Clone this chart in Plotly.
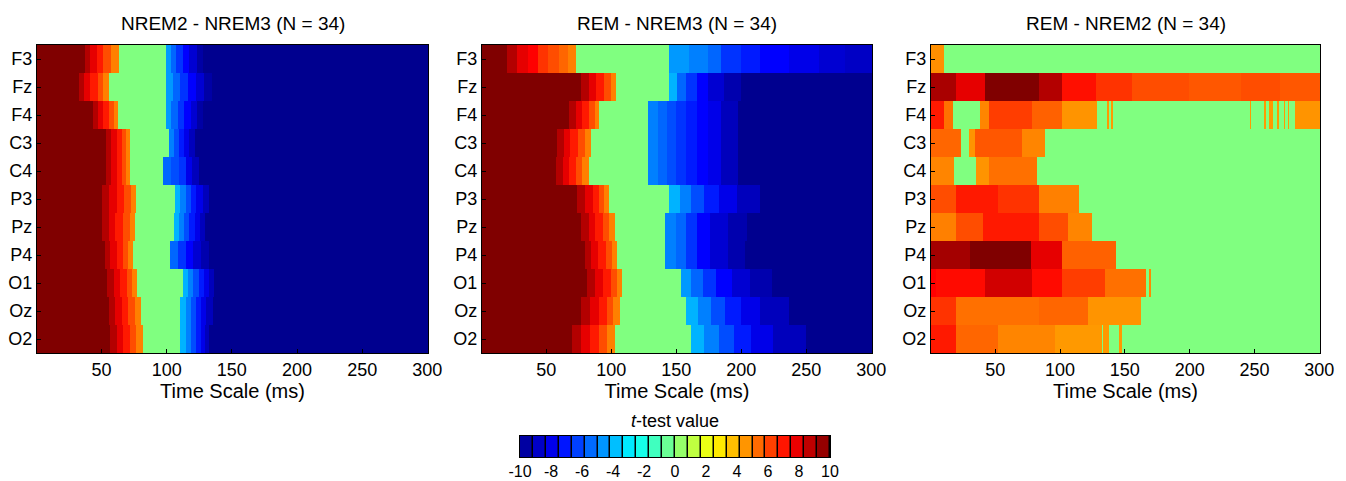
import numpy as np
import plotly.graph_objects as go

# ---------------- data ----------------
CHANNELS = ["F3", "Fz", "F4", "C3", "C4", "P3", "Pz", "P4", "O1", "Oz", "O2"]
TIME_MS = list(range(1, 301))
X_TICKS = [50, 100, 150, 200, 250, 300]
CB_TICKS = [-10, -8, -6, -4, -2, 0, 2, 4, 6, 8, 10]
CB_TICK_TEXT = ["-10", "-8", "-6", "-4", "-2", "0", "2", "4", "6", "8", "10"]
PANEL_TITLES = ["NREM2 - NREM3 (N = 34)", "REM - NREM3 (N = 34)", "REM - NREM2 (N = 34)"]

# Each channel: list of (start_ms, t-value) steps; the value holds until the next step.
NREM2_NREM3 = [
    [(0, 10), (38, 9), (42, 8), (47, 7), (52, 6), (58, 5), (64, 0), (100, -4.5), (104, -5.5), (108, -6.5), (113, -7.5), (118, -8.5), (124, -9.5), (128, -10)],
    [(0, 10), (33, 9), (37, 8), (42, 7), (48, 6), (52, 5), (56, 0), (100, -4.5), (105, -5.5), (111, -6.5), (117, -7.5), (123, -8.5), (129, -9.5), (135, -10)],
    [(0, 10), (44, 9), (48, 8), (52, 7), (56, 6), (60, 5), (63, 0), (100, -4.5), (104, -5.5), (109, -6.5), (114, -7.5), (119, -8.5), (124, -9.5), (128, -10)],
    [(0, 10), (54, 9), (58, 8), (62, 7), (66, 6), (69, 5), (72, 0), (102, -5), (106, -6), (110, -7), (114, -8), (118, -9), (122, -10)],
    [(0, 10), (54, 9), (58, 8), (62, 7), (66, 6), (69, 5), (72, 0), (98, -5.5), (104, -6), (110, -6.5), (115, -8), (120, -9), (125, -10)],
    [(0, 10), (51, 9), (56, 8), (62, 7), (68, 6), (73, 5), (77, 0), (107, -4), (111, -5), (115, -6), (119, -7), (123, -8), (128, -9), (133, -10)],
    [(0, 10), (51, 9), (56, 8), (61, 7), (67, 6), (72, 5), (76, 0), (106, -4), (110, -5), (114, -6), (118, -7), (122, -8), (126, -9), (130, -10)],
    [(0, 10), (53, 9), (57, 8), (62, 7), (67, 6), (71, 5), (75, 0), (103, -5.5), (109, -6.5), (115, -7.5), (121, -8.5), (127, -9.3), (133, -10)],
    [(0, 10), (55, 9), (60, 8), (65, 7), (70, 6), (74, 5), (78, 0), (113, -4), (117, -5), (121, -6), (125, -7), (129, -8), (133, -9), (137, -10)],
    [(0, 10), (56, 9), (61, 8), (66, 7), (71, 6), (76, 5), (81, 0), (111, -4), (115, -5), (119, -6), (123, -7), (127, -8), (131, -9), (136, -10)],
    [(0, 10), (57, 9), (62, 8), (67, 7), (72, 6), (77, 5), (82, 0), (111, -4), (115, -5), (119, -6), (123, -7), (127, -8), (130, -9), (133, -10)],
]

REM_NREM3 = [
    [(0, 10), (20, 9), (28, 8), (36, 7.5), (44, 6.5), (52, 6), (60, 5.5), (67, 5), (73, 0), (145, -4.5), (160, -5), (175, -5.5), (185, -6.5), (200, -7), (215, -7.5), (237, -8), (260, -8.5), (280, -8.8)],
    [(0, 10), (77, 9), (83, 8), (89, 7), (95, 6), (100, 5), (104, 0), (145, -4), (151, -5.5), (158, -6.5), (166, -7.5), (175, -8.5), (187, -9.3), (200, -10)],
    [(0, 10), (68, 9), (73, 8), (78, 7), (83, 6), (88, 5), (91, 0), (129, -5), (136, -5.5), (143, -6), (150, -6.5), (158, -7), (166, -7.5), (175, -8), (185, -9), (198, -10)],
    [(0, 10), (59, 9), (64, 8), (69, 7), (75, 6), (80, 5), (85, 0), (129, -5), (136, -5.5), (143, -6), (150, -6.5), (158, -7), (166, -7.5), (175, -8), (185, -9), (198, -10)],
    [(0, 10), (58, 9), (63, 8), (68, 7), (73, 6), (78, 5), (83, 0), (129, -5), (136, -5.5), (143, -6), (150, -6.5), (158, -7), (166, -7.5), (175, -8), (185, -9), (198, -10)],
    [(0, 10), (74, 9), (80, 8), (86, 7), (91, 6), (95, 5), (99, 0), (145, -4), (153, -5), (162, -6), (172, -7), (183, -8), (197, -9), (215, -10)],
    [(0, 10), (77, 9), (83, 8), (88, 7), (94, 6), (99, 5), (103, 0), (142, -5), (150, -5.5), (158, -6.5), (166, -7.5), (176, -8.5), (190, -9.3), (205, -10)],
    [(0, 10), (80, 9), (85, 8), (90, 7), (96, 6), (101, 5), (105, 0), (142, -5), (150, -5.5), (158, -6.5), (166, -7.5), (176, -8.5), (190, -9.3), (203, -10)],
    [(0, 10), (82, 9), (88, 8), (94, 7), (100, 6), (105, 5), (109, 0), (154, -4.5), (162, -5.5), (171, -6.5), (181, -7.5), (193, -8.5), (207, -9.3), (224, -10)],
    [(0, 10), (77, 9), (84, 8), (91, 7), (97, 6), (102, 5), (107, 0), (158, -4), (167, -5), (177, -6), (188, -7), (200, -8), (215, -9), (237, -10)],
    [(0, 10), (70, 9), (77, 8), (84, 7), (91, 6), (97, 5), (103, 0), (162, -4), (172, -5), (183, -6), (195, -7), (208, -8), (225, -9), (250, -10)],
]

REM_NREM2 = [
    [(0, 4.7), (11, 0)],
    [(0, 9.2), (20, 8), (43, 10), (84, 9), (102, 7.2), (128, 6.5), (156, 6), (200, 5.8), (240, 6), (270, 5.8)],
    [(0, 7), (11, 5.3), (18, 0), (39, 4.9), (46, 6.3), (79, 5.6), (102, 4.6), (129, 0), (137, 4.5), (138, 0), (140, 4.5), (141, 0),
     (247, 4.5), (248, 0), (258, 4.5), (259, 0), (262, 4.5), (265, 0), (268, 4.5), (269, 0), (273, 4.5), (274, 0), (276, 4.5), (277, 0), (282, 4.6)],
    [(0, 5.5), (24, 0), (30, 4.6), (35, 5.8), (71, 4.9), (89, 0)],
    [(0, 4.9), (19, 0), (36, 4.6), (46, 5.3), (83, 0)],
    [(0, 6), (20, 7), (53, 6.5), (84, 5), (115, 0)],
    [(0, 5), (20, 6), (41, 7), (84, 6), (107, 4.9), (125, 0)],
    [(0, 9.3), (31, 10), (78, 8), (102, 5.6), (144, 0)],
    [(0, 7.5), (5, 7.3), (43, 8.4), (79, 7.3), (102, 6.3), (135, 5.3), (167, 0), (169, 4.8), (171, 0)],
    [(0, 6.5), (20, 5.3), (84, 5.5), (122, 4.6), (163, 0)],
    [(0, 7), (20, 5.5), (53, 4.9), (97, 4.5), (133, 0), (134, 4.5), (138, 0), (146, 4.5), (148, 0)],
]

PANELS = [NREM2_NREM3, REM_NREM3, REM_NREM2]

# ---------------- helpers ----------------
def expand(steps):
    out = []
    for t in TIME_MS:
        v = steps[0][1]
        for s, val in steps:
            if s <= t:
                v = val
        out.append(v)
    return out

JET = [[0.0, "rgb(0,0,143)"], [0.125, "rgb(0,0,255)"], [0.375, "rgb(0,255,255)"],
       [0.625, "rgb(255,255,0)"], [0.875, "rgb(255,0,0)"], [1.0, "rgb(128,0,0)"]]

W, H = 1346, 481
def px_x(a, b):
    return [a / W, b / W]
def px_y(top, bottom):
    return [1 - bottom / H, 1 - top / H]

panel_x = [(37, 428), (482, 872), (931, 1320)]
panel_y = (45, 353)
FONT = "Arial, Liberation Sans, Helvetica, sans-serif"

fig = go.Figure()
layout = dict(width=W, height=H, margin=dict(l=0, r=0, t=0, b=0, autoexpand=False),
              paper_bgcolor="white", plot_bgcolor="black",
              font=dict(family=FONT, color="black", size=15), showlegend=False)
annotations = []

for i, data in enumerate(PANELS):
    n = i + 1
    xa = "x" if n == 1 else f"x{n}"
    ya = "y" if n == 1 else f"y{n}"
    z = [expand(ch) for ch in data]
    fig.add_trace(go.Heatmap(z=z, x=TIME_MS, y=CHANNELS, colorscale=JET, zmin=-10, zmax=10,
                             showscale=False, xaxis=xa, yaxis=ya, hoverinfo="x+y+z"))
    layout[f"xaxis{'' if n == 1 else n}"] = dict(
        domain=px_x(*panel_x[i]), anchor=ya, range=[0.5, 300.5], tickvals=X_TICKS,
        ticks="inside", ticklen=4, tickcolor="black", showline=True, linecolor="black",
        linewidth=1.2, mirror=True, showgrid=False, zeroline=False, automargin=False,
        tickfont=dict(size=18), title=dict(text="Time Scale (ms)", font=dict(size=20), standoff=4))
    layout[f"yaxis{'' if n == 1 else n}"] = dict(
        domain=px_y(*panel_y), anchor=xa, autorange="reversed", type="category",
        ticks="inside", ticklen=4, tickcolor="black", showline=True, linecolor="black",
        linewidth=1.2, mirror=True, showgrid=False, zeroline=False, automargin=False,
        tickfont=dict(size=18))
    cx = (panel_x[i][0] + panel_x[i][1]) / 2 / W
    annotations.append(dict(text=PANEL_TITLES[i], x=cx, y=1 - 23 / H, xref="paper", yref="paper",
                            showarrow=False, font=dict(size=19), xanchor="center", yanchor="middle"))

# ---------------- discrete colour bar ----------------
cb_edges = np.linspace(-10, 10, 25)
cb_levels = (cb_edges[:-1] + cb_edges[1:]) / 2
fig.add_trace(go.Heatmap(z=[list(cb_levels)], x=list(cb_edges), y=[0, 1], colorscale=JET,
                         zmin=-10, zmax=10, showscale=False, xgap=1.5, xaxis="x4", yaxis="y4",
                         hoverinfo="skip"))
layout["xaxis4"] = dict(domain=px_x(520, 830), anchor="y4", range=[-10, 10], tickvals=CB_TICKS,
                        ticktext=CB_TICK_TEXT, ticks="", showline=True, linecolor="black",
                        linewidth=1.2, mirror=True, showgrid=False, zeroline=False, automargin=False,
                        tickfont=dict(size=16))
layout["yaxis4"] = dict(domain=px_y(436, 457), anchor="x4", range=[0, 1], showticklabels=False,
                        ticks="", showline=True, linecolor="black", linewidth=1.2, mirror=True,
                        showgrid=False, zeroline=False, automargin=False)
annotations.append(dict(text="<i>t</i>-test value", x=675 / W, y=1 - 421 / H, xref="paper", yref="paper",
                        showarrow=False, font=dict(size=18), xanchor="center", yanchor="middle"))

layout["annotations"] = annotations
fig.update_layout(**layout)
fig.write_html("out.html")
